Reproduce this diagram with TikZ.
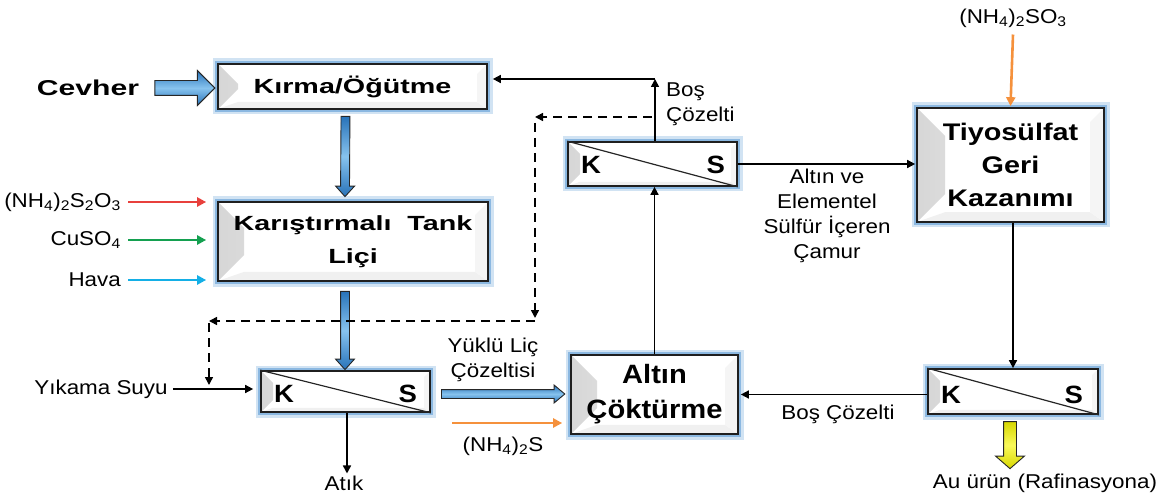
\documentclass[tikz,border=0pt]{standalone}
\usepackage{fontspec}
\setmainfont{Liberation Sans}
\newfontfamily\fA[FakeStretch=1.4]{Liberation Sans}
\newfontfamily\fB[FakeStretch=1.1]{Liberation Sans}
\newfontfamily\fC[FakeStretch=1.2]{Liberation Sans}
\newfontfamily\fR[FakeStretch=1.12]{Liberation Sans}
\usetikzlibrary{shapes.arrows,calc,arrows.meta}
\definecolor{glow}{RGB}{91,155,213}
\definecolor{abl1}{RGB}{40,115,185}
\definecolor{abl2}{RGB}{135,195,238}
\definecolor{cred}{RGB}{232,64,60}
\definecolor{cgreen}{RGB}{20,160,80}
\definecolor{ccyan}{RGB}{20,175,230}
\definecolor{corange}{RGB}{245,145,60}
\definecolor{cyel1}{RGB}{215,215,0}
\definecolor{cyel2}{RGB}{250,250,90}
\tikzset{
  bev/.store in=\bevw, bev=20pt,
  procbox/.style={draw=black!88, line width=1.7pt, fill=white, inner sep=0pt, align=center,
    preaction={draw=glow, draw opacity=0.28, line width=11pt},
    preaction={draw=glow, draw opacity=0.6, line width=6pt},
    path picture={
      \fill[left color=black!16, right color=black!2]
        (path picture bounding box.south west) -- (path picture bounding box.north west)
        -- ([shift={(\bevw,-\bevw)}]path picture bounding box.north west)
        -- ([shift={(\bevw,\bevw)}]path picture bounding box.south west) -- cycle;
      \fill[black!6]
        (path picture bounding box.south west) -- ([shift={(\bevw,0.35*\bevw)}]path picture bounding box.south west)
        -- ([shift={(-0.5*\bevw,0.35*\bevw)}]path picture bounding box.south east)
        -- (path picture bounding box.south east) -- cycle;
      \fill[black!4]
        (path picture bounding box.south east) -- (path picture bounding box.north east)
        -- ([shift={(-0.5*\bevw,-0.5*\bevw)}]path picture bounding box.north east)
        -- ([shift={(-0.5*\bevw,0.35*\bevw)}]path picture bounding box.south east) -- cycle;
    }},
  ksbox/.style={procbox, bev=12pt},
  kslbl/.style={font=\fB\bfseries\fontsize{25}{30}\selectfont, inner sep=0pt},
  lbl/.style={font=\fR\fontsize{20}{25}\selectfont, align=center, inner sep=2pt},
  arr/.style={-{Triangle[length=8pt,width=8pt]}, line width=1.6pt, draw=black},
  darr/.style={arr, dash pattern=on 9pt off 6pt},
  carr/.style={-{Triangle[length=9pt,width=9pt]}, line width=2.6pt},
  fatarr/.style={single arrow, draw=black!85, line width=0.9pt, inner xsep=0pt,
    top color=abl1, bottom color=abl1, middle color=abl2},
}
\newcommand\fatarrow[3]{%
  \path let \p1=($(#3)-(#2)$), \n1={veclen(\x1,\y1)} in
    (#2) -- (#3) node[midway, sloped, allow upside down, fatarr, #1, minimum height=\n1]{};}
\begin{document}
\begin{tikzpicture}[x=1pt,y=-1pt]
\useasboundingbox (0,0) rectangle (1171,500);

% process boxes
\node[procbox, bev=20pt, minimum width=269pt, minimum height=45pt,
  font=\fA\bfseries\fontsize{20.5}{33}\selectfont] (kirma) at (352.5,86.5) {Kırma/Öğütme};
\node[procbox, bev=26pt, minimum width=270pt, minimum height=79pt,
  font=\fA\bfseries\fontsize{20.5}{33}\selectfont] (karis) at (353,241.5) {Karıştırmalı\ \ Tank\\Liçi};
\node[procbox, bev=26pt, minimum width=167pt, minimum height=79pt,
  font=\fB\bfseries\fontsize{26.5}{35}\selectfont] (altin) at (654.5,394.5) {Altın\\Çöktürme};
\node[procbox, bev=28pt, minimum width=187pt, minimum height=114pt,
  font=\fC\bfseries\fontsize{24}{33}\selectfont] (tiyo) at (1010.5,165) {Tiyosülfat\\Geri\\Kazanımı};

% K/S separators
\node[ksbox, minimum width=169pt, minimum height=41pt] (ks1) at (345.5,391.5) {};
\node[ksbox, minimum width=169pt, minimum height=44pt] (ks2) at (652.5,164) {};
\node[ksbox, minimum width=170pt, minimum height=45pt] (ks3) at (1013,391.5) {};
\foreach \k in {ks1,ks2,ks3}{
  \draw[line width=1.2pt, black!85] (\k.north west) -- (\k.south east);
}
\node[kslbl] (ks1K) at ($(ks1.west)+(24,2)$) {K};
\node[kslbl] (ks1S) at ($(ks1.east)+(-23,2)$) {S};
\node[kslbl] (ks2K) at ($(ks2.west)+(24,0.5)$) {K};
\node[kslbl] (ks2S) at ($(ks2.east)+(-22,0.5)$) {S};
\node[kslbl] (ks3K) at ($(ks3.west)+(24,3)$) {K};
\node[kslbl] (ks3S) at ($(ks3.east)+(-25,3)$) {S};

% text labels
\node[font=\fA\bfseries\fontsize{21.5}{26}\selectfont, inner sep=0pt] (cevher) at (88,88) {Cevher};
\node[lbl, anchor=east] (nh1) at (123,202) {(NH\textsubscript{4})\textsubscript{2}S\textsubscript{2}O\textsubscript{3}};
\node[lbl, anchor=east] (cuso) at (123,240) {CuSO\textsubscript{4}};
\node[lbl, anchor=east] (hava) at (123,280) {Hava};
\node[lbl] (yikama) at (101,389) {Yıkama Suyu};
\node[lbl] (atik) at (344,483) {Atık};
\node[lbl] (yuklu) at (493,360) {Yüklü Liç\\Çözeltisi};
\node[lbl] (nh2) at (503,446) {(NH\textsubscript{4})\textsubscript{2}S};
\node[lbl, align=left, anchor=west] (bos1) at (664,104.5) {Boş\\Çözelti};
\node[lbl] (camur) at (827,215.5) {Altın ve\\Elementel\\Sülfür İçeren\\Çamur};
\node[lbl] (bos2) at (838,414) {Boş Çözelti};
\node[lbl] (nh3) at (1013,18) {(NH\textsubscript{4})\textsubscript{2}SO\textsubscript{3}};
\node[lbl] (au) at (1045,483) {Au ürün (Rafinasyona)};

% fat arrows
\coordinate (a1s) at ($(kirma.west)+(-66,1.5)$);
\coordinate (a1e) at ($(kirma.west)+(-6,1.5)$);
\fatarrow{inner ysep=7pt, minimum width=34pt, single arrow head extend=10pt, single arrow tip angle=90}{a1s}{a1e}
\coordinate (a2s) at ($(kirma.south)+(-7,4)$);
\coordinate (a2e) at ($(karis.north)+(-8,-7)$);
\fatarrow{inner ysep=4pt, minimum width=18pt, single arrow head extend=5pt, single arrow tip angle=84}{a2s}{a2e}
\coordinate (a3s) at ($(karis.south)+(-8,7)$);
\coordinate (a3e) at ($(ks1.north)+(-0.5,-3)$);
\fatarrow{inner ysep=4pt, minimum width=18pt, single arrow head extend=5pt, single arrow tip angle=84}{a3s}{a3e}
\coordinate (a4s) at ($(ks1.east)+(8,2.5)$);
\coordinate (a4e) at ($(altin.west)+(-8,-0.5)$);
\fatarrow{inner ysep=4pt, minimum width=17pt, single arrow head extend=4.5pt, single arrow tip angle=80}{a4s}{a4e}
\coordinate (a5s) at ($(ks3.south)+(-3,4)$);
\coordinate (a5e) at ($(ks3.south)+(-3,51)$);
\fatarrow{inner ysep=6pt, minimum width=28pt, single arrow head extend=8pt, single arrow tip angle=98, top color=cyel1, bottom color=cyel1, middle color=cyel2}{a5s}{a5e}

% coloured inputs
\draw[carr, cred] ([xshift=5pt]nh1.east) -- ([xshift=-11pt]karis.west |- nh1.east);
\draw[carr, cgreen] ([xshift=5pt]cuso.east) -- ([xshift=-11pt]karis.west |- cuso.east);
\draw[carr, ccyan] ([xshift=5pt]hava.east) -- ([xshift=-11pt]karis.west |- hava.east);
\coordinate (o1) at (452,423);
\draw[carr, corange] (o1) -- ([xshift=-8pt]altin.west |- o1);
\draw[carr, corange] ([yshift=-5pt]nh3.south) -- ([yshift=1pt]tiyo.north);

% thin connectors
\draw[arr] ([xshift=3pt]yikama.east) -- ([xshift=-7pt,yshift=2.5pt]ks1.west);
\draw[arr] ([xshift=1.5pt]ks1.south) -- ([xshift=1.5pt]ks1.south |- atik.north);
\coordinate (up1) at (655,79);
\draw[arr] (ks2.north -| up1) -- (up1);
\draw[arr] (up1) -- ([xshift=5pt]kirma.east |- up1);
\draw[arr] (altin.north) -- (altin.north |- ks2.south);
\draw[arr] (ks2.east) -- ([xshift=-1pt]tiyo.west |- ks2.east);
\draw[arr] (tiyo.south -| ks3.north) -- (ks3.north);
\draw[arr] (ks3.west |- altin.east) -- ([xshift=2pt]altin.east);

% dashed recycle
\coordinate (dsplit) at (652,117);
\coordinate (d1) at (535,117);
\coordinate (d2) at (535,321);
\coordinate (d3) at (209,321);
\draw[darr] (dsplit) -- (d1);
\draw[darr] ([yshift=-6pt]d1) -- ([yshift=3pt]d2);
\draw[darr] (d2) -- (d3);
\draw[darr] ([yshift=-2pt]d3) -- ([yshift=-64pt]d3);
\end{tikzpicture}
\end{document}
